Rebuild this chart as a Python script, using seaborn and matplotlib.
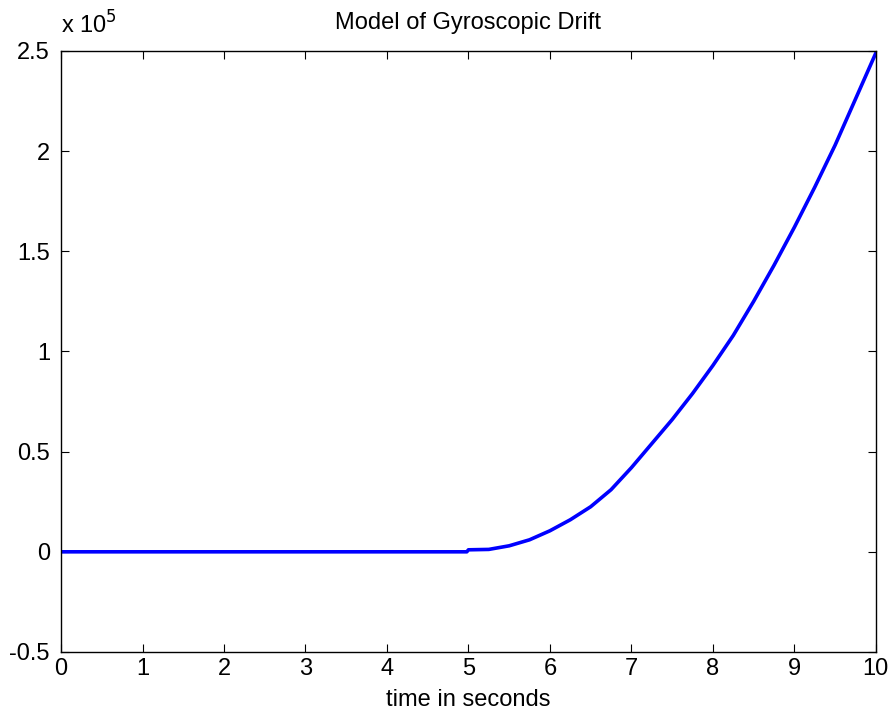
import numpy as np
import pandas as pd
import matplotlib
matplotlib.use('Agg')
import matplotlib.pyplot as plt
import seaborn as sns

# time samples (s) and drift values (units of 1e5)
time_s = [0, 1, 2, 3, 4, 4.98, 5.0, 5.25, 5.5, 5.75, 6.0, 6.25, 6.5, 6.75, 7.0,
          7.25, 7.5, 7.75, 8.0, 8.25, 8.5, 8.75, 9.0, 9.25, 9.5, 9.75, 10.0]
drift_e5 = [0, 0, 0, 0, 0, 0, 0.01, 0.012, 0.03, 0.06, 0.105, 0.16, 0.225, 0.31, 0.42,
            0.54, 0.66, 0.79, 0.93, 1.08, 1.25, 1.43, 1.62, 1.82, 2.03, 2.26, 2.49]

df = pd.DataFrame({'t': time_s, 'drift': np.array(drift_e5) * 1e5})

sns.set_style('ticks')
plt.rcParams['font.family'] = ['Liberation Sans', 'DejaVu Sans']
plt.rcParams['text.color'] = 'black'
plt.rcParams['axes.labelcolor'] = 'black'

fig = plt.figure(figsize=(8.91, 7.12), dpi=100)
ax = fig.add_axes([0.0685, 0.0843, 0.9145, 0.8441])

sns.lineplot(data=df, x='t', y='drift', color='#0000ff', linewidth=2.6, ax=ax)

ax.set_xlim(0, 10)
ax.set_ylim(-0.5e5, 2.5e5)
ax.set_xticks(range(0, 11))
yt = np.arange(-0.5, 2.51, 0.5)
ax.set_yticks(yt * 1e5)
ax.set_yticklabels(['%g' % v for v in yt])

for s in ax.spines.values():
    s.set_visible(True)
    s.set_linewidth(1.0)
    s.set_color('black')
ax.tick_params(direction='in', top=True, right=True, length=6, width=0.8,
               labelsize=17, colors='black')
ax.tick_params(axis='y', pad=8)
ax.tick_params(axis='x', pad=4)

ax.set_title('Model of Gyroscopic Drift', fontsize=17, pad=16, color='black')
ax.set_xlabel('time in seconds', fontsize=17, labelpad=7)
ax.set_ylabel('')
ax.text(0.0, 1.02, r'x 10$^{5}$', transform=ax.transAxes, fontsize=17,
        ha='left', va='bottom')

fig.savefig('out.png', dpi=100)
